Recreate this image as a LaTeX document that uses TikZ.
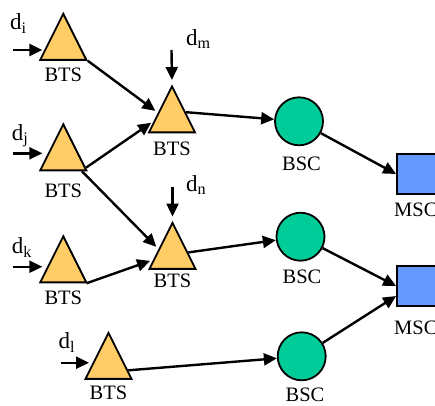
\documentclass[tikz,border=0pt]{standalone}
\usepackage{fontspec}
\setmainfont{Liberation Serif}
\usetikzlibrary{shapes.geometric,arrows.meta}
\definecolor{btsfill}{HTML}{FFCC66}
\definecolor{bscfill}{HTML}{00CC99}
\definecolor{mscfill}{HTML}{6699FF}
\tikzset{
	bts/.style={isosceles triangle,isosceles triangle stretches,shape border rotate=90,minimum width=46pt,minimum height=46pt,inner sep=0pt,draw,line width=1.8pt,fill=btsfill,anchor=apex},
	bsc/.style={circle,minimum size=48pt,inner sep=0pt,draw,line width=1.8pt,fill=bscfill},
	msc/.style={rectangle,minimum width=40pt,minimum height=40pt,inner sep=0pt,draw,line width=1.8pt,fill=mscfill},
	lbl/.style={inner sep=0pt,font=\fontsize{20.5}{24}\selectfont},
	dlbl/.style={inner sep=0pt,anchor=base west,font=\fontsize{23}{27}\selectfont},
	link/.style={line width=2.4pt,-{Triangle[length=13pt,width=12pt]}}
}
\begin{document}
\begin{tikzpicture}[x=1pt,y=-1pt]
		\useasboundingbox (0,0) rectangle (435,405);
		\clip (0,0) rectangle (435,405);
		\node[bts] (bti) at (63.3,11.5) {};
		\node[bts] (btj) at (63.3,122) {};
		\node[bts] (btk) at (63.3,234) {};
		\node[bts] (btl) at (108.5,330.5) {};
		\node[bts] (btm) at (172,84) {};
		\node[bts] (btn) at (172.5,220.5) {};
		\node[bsc] (bsc1) at (299,121.3) {};
		\node[bsc] (bsc2) at (300.5,236.7) {};
		\node[bsc] (bsc3) at (301.7,356.3) {};
		\node[msc] (msc1) at (417,174) {};
		\node[msc] (msc2) at (417,286) {};
		\node[lbl] (lbti) at (63.3,75) {BTS};
		\node[lbl] (lbtj) at (63.3,191.3) {BTS};
		\node[lbl] (lbtk) at (63.3,298.3) {BTS};
		\node[lbl] (lbtl) at (108.5,393.3) {BTS};
		\node[lbl] (lbtm) at (172,149) {BTS};
		\node[lbl] (lbtn) at (172.5,281) {BTS};
		\node[lbl] (lbsc1) at (301.5,164) {BSC};
		\node[lbl] (lbsc2) at (302,277) {BSC};
		\node[lbl] (lbsc3) at (305,395) {BSC};
		\node[lbl,anchor=west] (lmsc1) at (394,210) {MSC};
		\node[lbl,anchor=west] (lmsc2) at (394,327.5) {MSC};
		\node[dlbl] (ldi) at (10,29.3) {d\textsubscript{i}};
		\node[dlbl] (ldj) at (11.7,140) {d\textsubscript{j}};
		\node[dlbl] (ldk) at (11.7,253.3) {d\textsubscript{k}};
		\node[dlbl] (ldl) at (58.3,348.3) {d\textsubscript{l}};
		\node[dlbl] (ldm) at (186,45) {d\textsubscript{m}};
		\node[dlbl] (ldn) at (186,191) {d\textsubscript{n}};
		\coordinate (ini) at (12.7,50);
		\coordinate (inj) at (12.7,153.3);
		\coordinate (ink) at (12.7,266.7);
		\coordinate (inl) at (60.7,362.7);
		\coordinate (inm) at (171.5,50);
		\coordinate (inn) at (172.5,186.7);
		\draw[link,shorten >=-3.5pt] (ini) -- (ini -| bti.left corner);
		\draw[link,shorten >=-3.5pt] (inj) -- (inj -| btj.left corner);
		\draw[link,shorten >=-3.5pt] (ink) -- (ink -| btk.left corner);
		\draw[link,shorten >=-5pt] (inl) -- (inl -| btl.left corner);
		\draw[link,shorten >=4pt] (inm) -- (btm.apex);
		\draw[link,shorten >=4pt] (inn) -- (btn.apex);
		\draw[link,shorten >=3pt] (bti.right corner) -- (btm.159);
		\draw[link,shorten >=3pt] (btj.-27) -- (btm.189);
		\draw[link,shorten >=3pt] (btj.-39) -- (btn.158);
		\draw[link,shorten >=3pt] (btk.-33) -- (btn.195);
		\draw[link] (btm.23) -- (bsc1);
		\draw[link] (btn.8) -- (bsc2);
		\draw[link] (btl.-16) -- (bsc3);
		\draw[link] (bsc1) -- (msc1.west);
		\draw[link] (bsc2) -- (msc2.west);
		\draw[link] (bsc3) -- ([yshift=-10pt]msc2.west);
\end{tikzpicture}
\end{document}
